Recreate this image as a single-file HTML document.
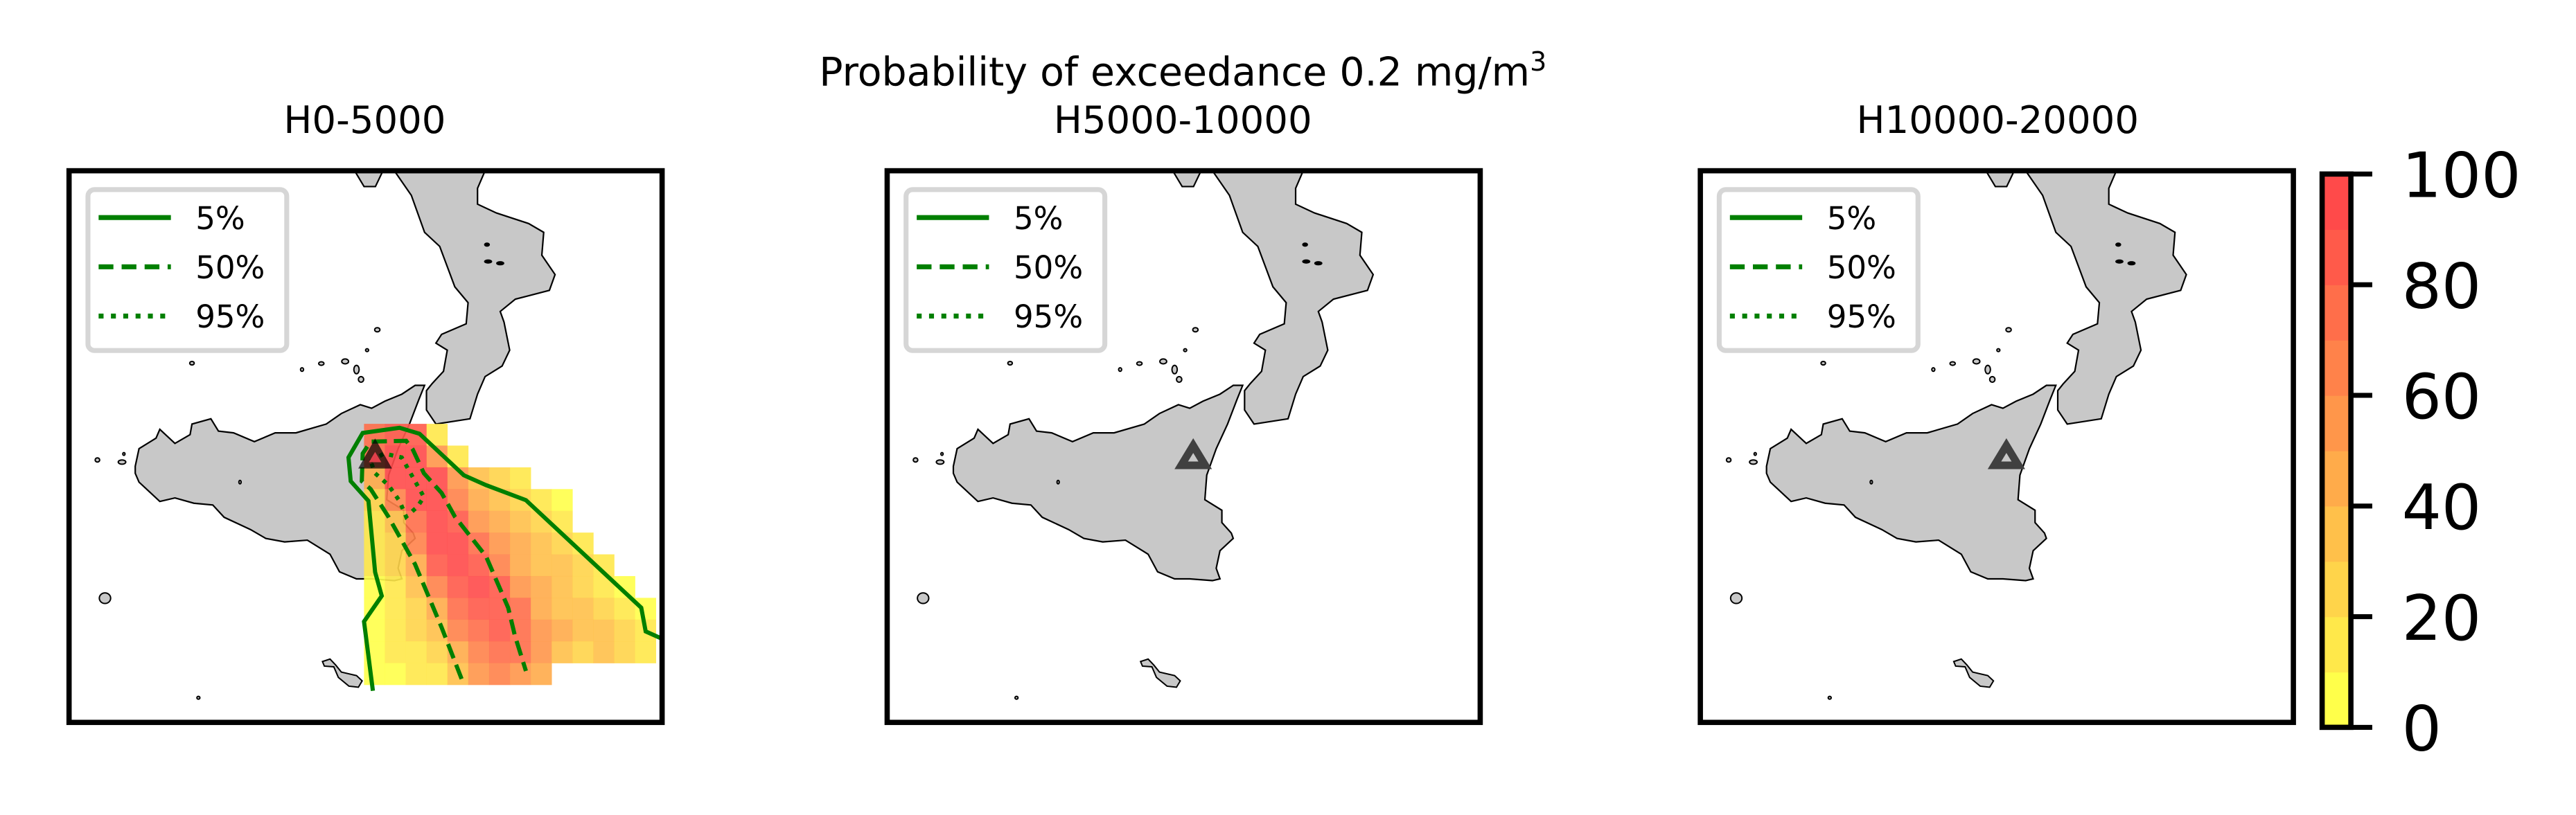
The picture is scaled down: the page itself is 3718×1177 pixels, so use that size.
<!DOCTYPE html>
<html><head><meta charset="utf-8"><style>
html,body{margin:0;padding:0;background:#fff;}
svg{display:block;}
text{font-family:"DejaVu Sans","Liberation Sans",sans-serif;}
</style></head><body>
<svg id="fig" xmlns="http://www.w3.org/2000/svg" width="3718" height="1177" viewBox="0 0 1568 496.4">
<defs>
<g id="basemap">
  <polygon fill="#c8c8c8" stroke="#000" stroke-width="2.2" vector-effect="non-scaling-stroke"
   points="175,840 185,790 230,760 240,735 280,775 320,750 325,720 375,705 395,740 435,745 490,770 545,745 600,745 680,720 720,690 770,665 800,675 835,655 880,635 915,610 940,610 925,650 900,720 870,790 845,865 840,935 885,965 885,1000 910,1030 915,1045 880,1080 870,1130 880,1160 860,1165 800,1160 760,1160 715,1140 690,1090 630,1050 570,1055 520,1045 480,1020 410,985 380,950 330,945 280,930 240,940 210,910 185,885 175,860"/>
  <polygon fill="#c8c8c8" stroke="#000" stroke-width="2.2" vector-effect="non-scaling-stroke"
   points="860,0 905,70 940,175 980,215 1020,330 1055,375 1050,435 985,465 970,490 1000,510 990,570 960,605 945,625 945,680 970,720 1060,705 1080,635 1100,585 1145,555 1165,510 1150,430 1140,400 1180,365 1270,340 1285,295 1250,240 1255,175 1215,150 1130,120 1080,95 1080,50 1100,0"/>
  <polygon fill="#c8c8c8" stroke="#000" stroke-width="2.2" vector-effect="non-scaling-stroke" points="755,0 780,45 810,45 830,0"/>
  <g fill="#c8c8c8" stroke="#000" stroke-width="2">
    <ellipse vector-effect="non-scaling-stroke" cx="815" cy="452" rx="7" ry="6"/>
    <ellipse vector-effect="non-scaling-stroke" cx="788" cy="510" rx="4" ry="4"/>
    <ellipse vector-effect="non-scaling-stroke" cx="730" cy="542" rx="9" ry="7"/>
    <ellipse vector-effect="non-scaling-stroke" cx="760" cy="565" rx="7" ry="12"/>
    <ellipse vector-effect="non-scaling-stroke" cx="772" cy="593" rx="7" ry="8"/>
    <ellipse vector-effect="non-scaling-stroke" cx="667" cy="548" rx="7" ry="5"/>
    <ellipse vector-effect="non-scaling-stroke" cx="616" cy="565" rx="4" ry="5"/>
    <ellipse vector-effect="non-scaling-stroke" cx="325" cy="547" rx="6" ry="5"/>
    <ellipse vector-effect="non-scaling-stroke" cx="75" cy="822" rx="6" ry="6"/>
    <ellipse vector-effect="non-scaling-stroke" cx="145" cy="805" rx="3" ry="4"/>
    <ellipse vector-effect="non-scaling-stroke" cx="140" cy="828" rx="10" ry="6"/>
    <ellipse vector-effect="non-scaling-stroke" cx="452" cy="885" rx="3" ry="5"/>
    <ellipse vector-effect="non-scaling-stroke" cx="95" cy="1215" rx="15" ry="15"/>
    <polygon vector-effect="non-scaling-stroke" points="670,1395 690,1388 705,1405 720,1425 760,1435 775,1450 765,1468 740,1465 712,1440 700,1410 675,1408"/>
    <ellipse vector-effect="non-scaling-stroke" cx="342" cy="1498" rx="4" ry="4"/>
    <ellipse vector-effect="non-scaling-stroke" cx="1105" cy="210" rx="6" ry="4" fill="#000"/>
    <ellipse vector-effect="non-scaling-stroke" cx="1108" cy="258" rx="9" ry="4" fill="#000"/>
    <ellipse vector-effect="non-scaling-stroke" cx="1140" cy="263" rx="9" ry="4" fill="#000"/>
  </g>
</g>
<clipPath id="pclip"><rect x="0" y="0" width="361" height="336"/></clipPath>
</defs>

<text x="720" y="52" font-size="24" text-anchor="middle">Probability of exceedance 0.2 mg/m<tspan font-size="16" dy="-9">3</tspan></text>
<text x="222" y="81" font-size="23" text-anchor="middle">H0-5000</text>
<text x="720" y="81" font-size="23" text-anchor="middle">H5000-10000</text>
<text x="1216" y="81" font-size="23" text-anchor="middle">H10000-20000</text>

<g id="panels"></g>
<g id="colorbar"></g>
</svg>
<script>
// heatmap grid (probability %, null = no data), rows top->bottom, cols left->right
const row0 = [70,85,85,10,null,null,null,null,null,null,null,null,null,null];
const row1 = [70,90,90,50,10,null,null,null,null,null,null,null,null,null];
const row2 = [40,90,90,90,50,30,20,10,null,null,null,null,null,null];
const row3 = [20,60,90,90,60,40,30,20,10,5,null,null,null,null];
const row4 = [15,30,70,90,80,50,40,30,20,10,null,null,null,null];
const row5 = [10,20,60,90,90,70,50,40,30,20,10,null,null,null];
const row6 = [10,20,40,80,90,80,60,40,30,30,20,10,null,null];
const row7 = [5,10,30,60,80,90,80,50,40,30,20,10,5,null];
const row8 = [5,10,20,40,70,80,80,70,40,30,30,20,10,5];
const row9 = [5,10,20,30,60,70,80,70,50,40,30,30,20,10];
const row10 = [5,10,15,20,40,60,70,70,50,30,20,30,20,10];
const row11 = [5,5,10,10,30,50,60,50,40,null,null,null,null,null];
const gridValues = [row0,row1,row2,row3,row4,row5,row6,row7,row8,row9,row10,row11];
const cbTicks = [0,20,40,60,80,100];
const cbLevels = [0,10,20,30,40,50,60,70,80,90,100];
const binColors = ['#ffff4a','#ffe84a','#ffd44a','#ffc04a','#ffab4a','#ff964a','#ff824a','#ff6e4a','#ff5a4a','#ff4a4a'];

const NS='http://www.w3.org/2000/svg';
function mk(tag,attrs,parent){const e=document.createElementNS(NS,tag);for(const k in attrs)e.setAttribute(k,attrs[k]);if(parent)parent.appendChild(e);return e;}
function colorOf(v){let i=Math.min(9,Math.floor(v/10));return binColors[i];}
const gx=c=>825+47*c, gy=r=>725+55*r;

const panelsG=document.getElementById('panels');
const panelX=[42,540,1035];
const panelY=104, pw=361, ph=336;
const contour5=[[845,1400],[825,1225],[865,1160],[850,1100],[835,920],[795,870],[790,810],[822,748],[905,735],[950,750],[1050,855],[1100,880],[1190,918],[1450,1190],[1460,1250],[1500,1270]];
const contour50=[[1045,1370],[1000,1240],[940,1080],[880,960],[840,890],[820,870],[822,800],[840,770],[920,768],[935,790],[960,850],[1000,900],[1030,960],[1100,1060],[1150,1190],[1165,1260],[1190,1350]];
const contour95=[[840,820],[870,800],[910,810],[935,860],[960,910],[945,935],[920,960],[905,920],[880,880],[850,850],[840,820]];
const pts=a=>a.map(p=>p.join(',')).join(' ');

panelX.forEach((px,i)=>{
  const g=mk('g',{transform:`translate(${px},${panelY})`},panelsG);
  
  
  const clip=mk('g',{'clip-path':'url(#pclip)'},g);
  const base=mk('g',{transform:`scale(${361/1568},${336/1568})`},clip);
  const bm=mk('use',{href:'#basemap'},base);
  
  
  const inner=mk('g',{transform:`scale(${361/1337},${336/1395}) translate(-160,-85)`},clip);
  if(i===0){
    const hm=mk('g',{},inner);
    
    
    gridValues.forEach((row,r)=>row.forEach((v,c)=>{
      if(v===null) return;
      const cell=mk('rect',{x:gx(c),y:gy(r),width:47.5,height:55.5,fill:colorOf(v),'fill-opacity':0.9},hm);
      
      
    }));
    const c5=mk('polyline',{points:pts(contour5),fill:'none',stroke:'#007f00','stroke-width':6,'vector-effect':'non-scaling-stroke'},inner);
    
    
    const c50=mk('polyline',{points:pts(contour50),fill:'none',stroke:'#007f00','stroke-width':6,'stroke-dasharray':'22,10','vector-effect':'non-scaling-stroke'},inner);
    
    
    const c95=mk('polyline',{points:pts(contour95),fill:'none',stroke:'#007f00','stroke-width':6,'stroke-dasharray':'6,9','vector-effect':'non-scaling-stroke'},inner);
    
    
    const tri=mk('polygon',{points:'812,838 888,838 850,762',fill:'#000','fill-opacity':0.7},inner);
    
    
    mk('polygon',{points:'836,822 864,822 850,796',fill:'#e0404a'},inner);
  } else {
    const tri=mk('polygon',{points:'823,830 877,830 850,780',fill:'none',stroke:'#404040','stroke-width':11,'stroke-linejoin':'miter','vector-effect':'non-scaling-stroke'},inner);
    
    
  }
  const frame=mk('rect',{x:0,y:0,width:pw,height:ph,fill:'none',stroke:'#000','stroke-width':3.2},g);
  
  
  const lg=mk('g',{},g);
  
  
  mk('rect',{x:11.5,y:11.5,width:121,height:98,rx:4,fill:'#fff','fill-opacity':0.85,stroke:'#d6d6d6','stroke-width':3},lg);
  const labels=['5%','50%','95%'];
  const dashes=['none','9,5','3,4.5'];
  labels.forEach((lab,k)=>{
    const yy=28.5+30*k;
    const ln=mk('line',{x1:18,x2:62,y1:yy,y2:yy,stroke:'#007f00','stroke-width':3,'stroke-dasharray':dashes[k]},lg);
    
    
    const t=mk('text',{x:77,y:yy+7,'font-size':19},lg);
    t.textContent=lab;
    
    
  });
});

const cb=document.getElementById('colorbar');
const cbx=1413.5, cbw=17.5, cbTop=106, cbBot=443;
const cy=v=>cbBot-(v/100)*(cbBot-cbTop);
for(let i=0;i<cbLevels.length-1;i++){
  const r=mk('rect',{x:cbx,y:cy(cbLevels[i+1]),width:cbw,height:cy(cbLevels[i])-cy(cbLevels[i+1])+0.3,fill:binColors[i]},cb);
  
  
}
mk('rect',{x:cbx,y:cbTop,width:cbw,height:cbBot-cbTop,fill:'none',stroke:'#000','stroke-width':3.2},cb);
cbTicks.forEach(v=>{
  const tk=mk('line',{x1:cbx+cbw,x2:cbx+cbw+13,y1:cy(v),y2:cy(v),stroke:'#000','stroke-width':3},cb);
  
  
  const t=mk('text',{x:1462,y:cy(v)+14,'font-size':38},cb);
  t.textContent=v;
  
  
});
</script>
</body></html>
